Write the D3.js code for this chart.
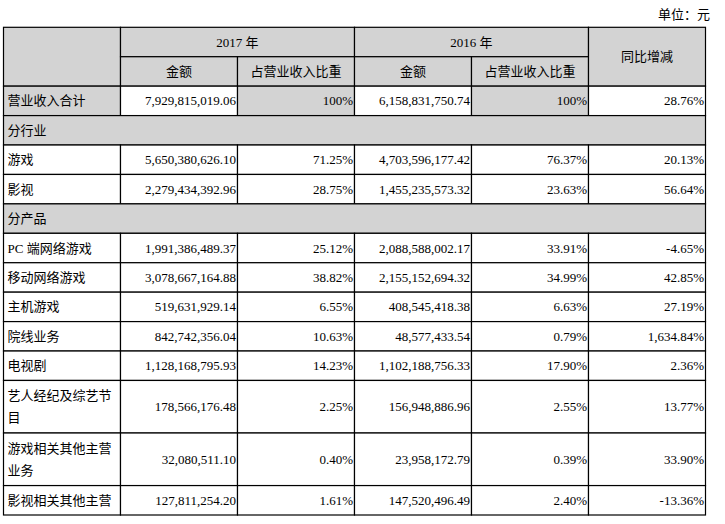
<!DOCTYPE html>
<html lang="zh">
<head>
<meta charset="UTF-8">
<title>营业收入构成</title>
<style>
    body { margin: 0; background: #fff; }
    svg text { font-family: "Liberation Serif", "Noto Sans CJK SC", serif; font-size: 13px; fill: #000; }
</style>
</head>
<body>
<div id="chart"></div>
<script src="https://d3js.org/d3.v7.min.js"></script>
<script>
// table data
const rowLabels = ["营业收入合计", "分行业", "游戏", "影视", "分产品", "PC 端网络游戏", "移动网络游戏",
    "主机游戏", "院线业务", "电视剧", "艺人经纪及综艺节目", "游戏相关其他主营业务", "影视相关其他主营"];
const sectionRows = ["分行业", "分产品"];
const amount2017 = [7929815019.06, null, 5650380626.10, 2279434392.96, null, 1991386489.37, 3078667164.88,
    519631929.14, 842742356.04, 1128168795.93, 178566176.48, 32080511.10, 127811254.20];
const share2017 = [100, null, 71.25, 28.75, null, 25.12, 38.82, 6.55, 10.63, 14.23, 2.25, 0.40, 1.61];
const amount2016 = [6158831750.74, null, 4703596177.42, 1455235573.32, null, 2088588002.17, 2155152694.32,
    408545418.38, 48577433.54, 1102188756.33, 156948886.96, 23958172.79, 147520496.49];
const share2016 = [100, null, 76.37, 23.63, null, 33.91, 34.99, 6.63, 0.79, 17.90, 2.55, 0.39, 2.40];
const yoyChange = [28.76, null, 20.13, 56.64, null, -4.65, 42.85, 27.19, 1634.84, 2.36, 13.77, 33.90, -13.36];
const yearLabels = ["2017 年", "2016 年"];
const subHeaders = ["金额", "占营业收入比重"];
const yoyHeader = "同比增减";
const unitNote = "单位：元";

const W = 725, H = 524;
const gray = "#d3d3d3";
const locale = d3.formatLocale({decimal: ".", thousands: ",", grouping: [3], currency: ["", ""], minus: "-"});
const fmtAmt = locale.format(",.2f");
const fmtPct = v => (v === 100 ? "100" : locale.format(",.2f")(v)) + "%";

const svg = d3.select("#chart").append("svg")
    .attr("width", W)
    .attr("height", H);

const colKeys = ["label", "amt2017", "pct2017", "amt2016", "pct2016", "yoy"];
const x = d3.scaleBand().domain(colKeys).range([3.5, 705.5]);
const cw = x.bandwidth();

// wrap labels to the first column width
const probe = svg.append("text");
function wrap(s, maxW) {
    const lines = [];
    let cur = "";
    for (const ch of s) {
        probe.text(cur + ch);
        if (cur && probe.node().getComputedTextLength() > maxW) {
            lines.push(cur);
            cur = ch;
        } else {
            cur += ch;
        }
    }
    lines.push(cur);
    return lines;
}
const labelLines = rowLabels.map(s => sectionRows.includes(s) ? [s] : wrap(s, cw - 8));
probe.remove();

// row heights in units (1 = single line row)
const unitH = n => n === 1 ? 1 : 1.786;
const rowUnits = [1, 1].concat(labelLines.map(l => unitH(l.length)));
const rowStart = [0];
rowUnits.forEach((u, i) => rowStart.push(rowStart[i] + u));
const y = d3.scaleLinear().domain([0, rowStart[rowStart.length - 1]]).range([27.3, 515]);

// build cells
const cells = [];
function cell(r, rs, c0, cs, text, align, fill) {
    cells.push({r, rs, c0, cs, text, align, fill});
}
cell(0, 2, 0, 1, "", "left", gray);
yearLabels.forEach((t, i) => {
    cell(0, 1, 1 + i * 2, 2, t, "middle", gray);
    subHeaders.forEach((s, j) => cell(1, 1, 1 + i * 2 + j, 1, s, "middle", gray));
});
cell(0, 2, 5, 1, yoyHeader, "middle", gray);

rowLabels.forEach((lab, i) => {
    const r = i + 2;
    if (sectionRows.includes(lab)) {
        cell(r, 1, 0, 6, [lab], "left", gray);
        return;
    }
    const total = i === 0;
    cell(r, 1, 0, 1, labelLines[i], "left", total ? gray : "#fff");
    cell(r, 1, 1, 1, fmtAmt(amount2017[i]), "end", "#fff");
    cell(r, 1, 2, 1, fmtPct(share2017[i]), "end", total ? gray : "#fff");
    cell(r, 1, 3, 1, fmtAmt(amount2016[i]), "end", "#fff");
    cell(r, 1, 4, 1, fmtPct(share2016[i]), "end", total ? gray : "#fff");
    cell(r, 1, 5, 1, fmtPct(yoyChange[i]), "end", "#fff");
});

const g = svg.selectAll(".cell")
    .data(cells)
    .enter().append("g")
    .attr("class", "cell");

g.append("rect")
    .attr("x", d => x(colKeys[d.c0]))
    .attr("y", d => y(rowStart[d.r]))
    .attr("width", d => cw * d.cs)
    .attr("height", d => y(rowStart[d.r + d.rs]) - y(rowStart[d.r]))
    .attr("fill", d => d.fill)
    .attr("stroke", "#000")
    .attr("stroke-width", 1.2);

g.each(function(d) {
    const x0 = x(colKeys[d.c0]), x1 = x0 + cw * d.cs;
    const cy = (y(rowStart[d.r]) + y(rowStart[d.r + d.rs])) / 2;
    const lines = Array.isArray(d.text) ? d.text : [d.text];
    const lh = 21.7;
    const tx = d.align === "left" ? x0 + 4 : d.align === "end" ? x1 - 1.5 : (x0 + x1) / 2;
    d3.select(this).selectAll("text")
        .data(lines)
        .enter().append("text")
        .attr("x", tx)
        .attr("y", (l, k) => cy + 4.6 + (k - (lines.length - 1) / 2) * lh)
        .attr("text-anchor", d.align === "left" ? "start" : d.align)
        .text(l => l);
});

svg.append("text")
    .attr("x", 710)
    .attr("y", 18.5)
    .attr("text-anchor", "end")
    .text(unitNote);
</script>
</body>
</html>
